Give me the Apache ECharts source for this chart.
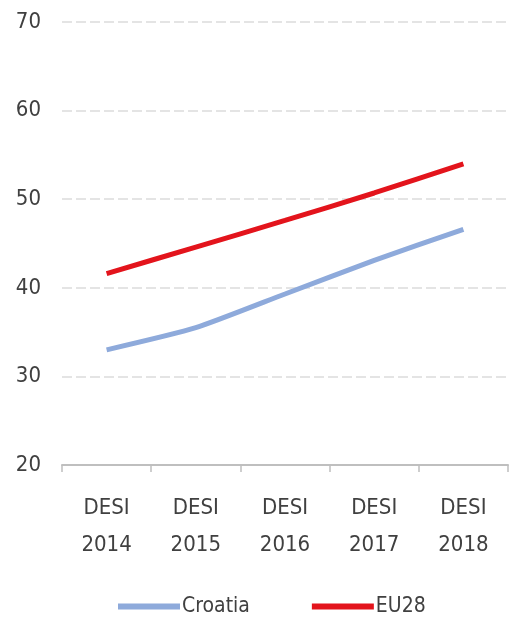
<!DOCTYPE html>
<html><head><meta charset="utf-8">
<script src="https://cdn.jsdelivr.net/npm/echarts@6/dist/echarts.min.js"></script>
<style>html,body{margin:0;padding:0;background:#fff}#c{width:517px;height:621px}</style>
</head><body><div id="c"></div>
<script>
const categories = ['DESI\n2014', 'DESI\n2015', 'DESI\n2016', 'DESI\n2017', 'DESI\n2018'];
const croatia = [33.0, 35.5, 39.3, 43.1, 46.6];
const eu28 = [41.6, 44.6, 47.6, 50.7, 54.0];
const yTicks = [20, 30, 40, 50, 60, 70];

const font = '"DejaVu Sans Condensed", "Liberation Sans", sans-serif';
const chart = echarts.init(document.getElementById('c'));
chart.setOption({
  animation: false,
  textStyle: { fontFamily: font },
  grid: { left: 62, right: 9, top: 22, bottom: 156 },
  legend: {
    left: 113, top: 591, itemGap: 62, itemWidth: 62, itemHeight: 6, icon: 'rect',
    textStyle: { fontFamily: font, fontSize: 21, color: '#404040', padding: [0, 0, 0, -3] },
    data: ['Croatia', 'EU28']
  },
  xAxis: {
    type: 'category', data: categories, boundaryGap: true,
    axisLine: { lineStyle: { color: '#bfbfbf', width: 2 } },
    axisTick: { show: true, length: 7, lineStyle: { color: '#bfbfbf', width: 1.5 } },
    axisLabel: { color: '#404040', fontSize: 22, lineHeight: 37, margin: 25, fontFamily: font }
  },
  yAxis: {
    type: 'value', min: yTicks[0], max: yTicks[yTicks.length - 1], interval: 10,
    axisLine: { show: false }, axisTick: { show: false },
    axisLabel: { color: '#404040', fontSize: 22, margin: 21, fontFamily: font },
    splitLine: { lineStyle: { color: '#dcdcdc', type: [10, 4], width: 1.5 } }
  },
  series: [
    { name: 'Croatia', type: 'line', data: croatia, smooth: 0.2, symbol: 'none',
      lineStyle: { color: '#8eaadb', width: 5 }, itemStyle: { color: '#8eaadb' } },
    { name: 'EU28', type: 'line', data: eu28, smooth: 0.2, symbol: 'none',
      lineStyle: { color: '#e3141c', width: 5 }, itemStyle: { color: '#e3141c' } }
  ]
});
</script></body></html>
